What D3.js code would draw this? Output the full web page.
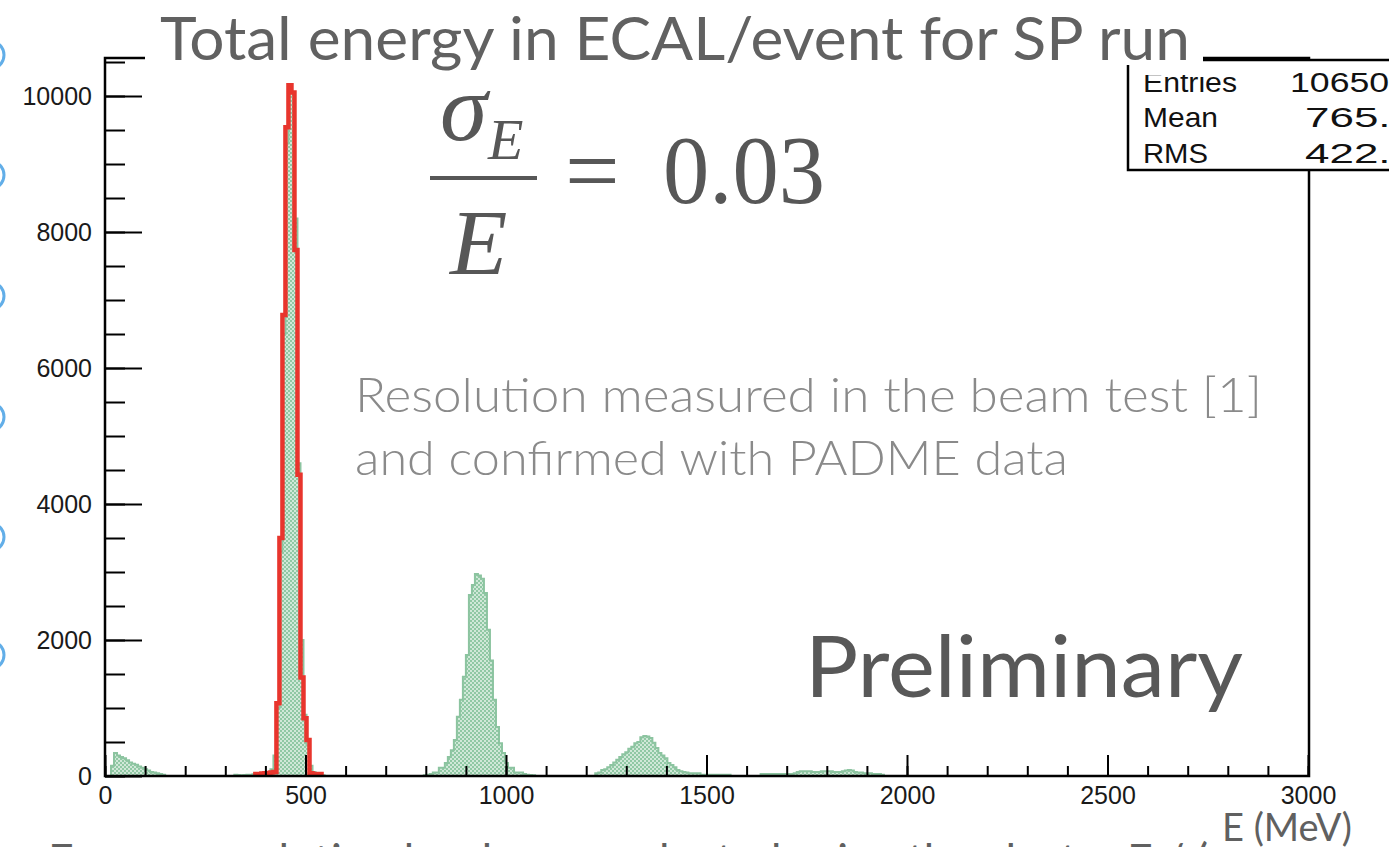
<!DOCTYPE html>
<html><head><meta charset="utf-8">
<script src="https://cdn.jsdelivr.net/npm/d3@7"></script>
<style>html,body{margin:0;padding:0;background:#fff;overflow:hidden}</style>
</head><body><svg id="c" width="1389" height="847"></svg>
<script>
// ---------------- DATA ----------------
const BIN_WIDTH = 7.5; // MeV per bin (400 bins over 0-3000 MeV)
const X_DOMAIN = [0, 3000];
const Y_MAX = 10559;
const xMajorTicks = [0, 500, 1000, 1500, 2000, 2500, 3000];
const xMinorTicks = d3.range(0, 3001, 100);
const yMajorTicks = [0, 2000, 4000, 6000, 8000, 10000];
const yMinorTicks = d3.range(0, 10501, 500);

// green (all events) histogram, in segments: start energy (MeV) + counts per bin
const greenLowStart = 15;
const greenLow = [150, 340, 300, 280, 260, 230, 200, 180, 165, 140, 120, 100, 80, 60, 50, 40, 30, 20];
const greenPeak1Start = 322.5;
const greenPeak1 = [20, 15, 10, 15, 20, 20, 25, 30, 30, 35, 40, 60, 100, 300, 1000, 3300, 6500, 9300, 10100, 10050, 8200, 4600, 2000, 900, 450, 150, 60, 30, 20, 10];
const greenPeak2Start = 795;
const greenPeak2 = [10, 20, 30, 50, 50, 120, 120, 190, 280, 380, 530, 870, 1120, 1460, 1780, 2660, 2810, 2970, 2950, 2900, 2690, 2150, 1700, 1120, 720, 480, 340, 190, 120, 120, 50, 50, 50, 30, 20, 15, 10];
const greenPeak3Start = 1222.5;
const greenPeak3 = [40, 50, 90, 100, 130, 160, 200, 240, 280, 320, 350, 400, 430, 480, 500, 570, 590, 580, 560, 490, 410, 340, 300, 260, 190, 160, 130, 90, 70, 60, 50, 40, 40, 40, 40, 20, 20, 20, 20, 20, 20, 20, 20, 20, 20];
const greenPeak4Start = 1635;
const greenPeak4 = [30, 30, 30, 30, 30, 30, 30, 30, 30, 30, 30, 40, 60, 70, 70, 70, 70, 60, 60, 60, 70, 70, 70, 70, 60, 60, 60, 70, 80, 90, 80, 60, 50, 50, 40, 40, 40, 30, 30, 30, 20];

// red (selected) histogram
const redStart = 375;
const redCounts = [30, 30, 35, 40, 45, 50, 60, 1070, 3500, 6780, 9540, 10160, 10050, 7735, 4430, 1450, 850, 530, 40, 30, 30, 30];

const titleText = "Total energy in ECAL/event for SP run";
const statsLabels = ["Entries", "Mean", "RMS"];
const statsValues = ["106500", "765.3", "422.6"];
const noteLines = ["Resolution measured in the beam test [1]", "and confirmed with PADME data"];
const bottomText = "Energy resolution has been evaluated using the cluster E / (";
const leftMarksY = [55, 175, 296, 417, 537, 655];

// ---------------- DRAWING ----------------
const svg = d3.select("#c");
const x = d3.scaleLinear().domain(X_DOMAIN).range([105, 1308]);
const y = d3.scaleLinear().domain([0, Y_MAX]).range([776, 58]);

function toBins(start, counts) {
  return counts.map((c, i) => ({ e0: start + i * BIN_WIDTH, c }));
}
function stepPoints(bins) {
  const pts = [];
  bins.forEach(b => {
    pts.push([b.e0, b.c]);
    pts.push([b.e0 + BIN_WIDTH, b.c]);
  });
  return pts;
}
const segments = [
  [greenLowStart, greenLow], [greenPeak1Start, greenPeak1], [greenPeak2Start, greenPeak2],
  [greenPeak3Start, greenPeak3], [greenPeak4Start, greenPeak4]
];

const defs = svg.append("defs");
const pat = defs.append("pattern").attr("id", "hatch").attr("patternUnits", "userSpaceOnUse")
  .attr("width", 4).attr("height", 4);
pat.append("rect").attr("width", 4).attr("height", 4).attr("fill", "#90c8a4");
pat.append("rect").attr("x", 0.2).attr("y", 0.2).attr("width", 1.6).attr("height", 1.6).attr("fill", "#f4faf6");
pat.append("rect").attr("x", 2.2).attr("y", 2.2).attr("width", 1.6).attr("height", 1.6).attr("fill", "#f4faf6");

// left-edge blue marks (partial slide shapes)
svg.selectAll("circle.mark").data(leftMarksY).enter().append("circle")
  .attr("cx", -10).attr("cy", d => d).attr("r", 14)
  .attr("fill", "none").attr("stroke", "#62aee8").attr("stroke-width", 3);

// green histogram
const area = d3.area().x(d => x(d[0])).y0(y(0)).y1(d => y(d[1]));
const line = d3.line().x(d => x(d[0])).y(d => y(d[1]));
segments.forEach(([s, c]) => {
  const pts = stepPoints(toBins(s, c));
  const full = [[pts[0][0], 0], ...pts, [pts[pts.length - 1][0], 0]];
  svg.append("path").attr("d", area(full)).attr("fill", "url(#hatch)");
  svg.append("path").attr("d", line(full)).attr("fill", "none")
    .attr("stroke", "#8cc4a0").attr("stroke-width", 2);
});

// red histogram (outline)
{
  const pts = stepPoints(toBins(redStart, redCounts));
  const full = [[pts[0][0], 0], ...pts, [pts[pts.length - 1][0], 0]];
  svg.append("path").attr("d", line(full)).attr("fill", "none")
    .attr("stroke", "#e8352d").attr("stroke-width", 4.5).attr("stroke-linejoin", "miter");
}

// frame
const frame = svg.append("g").attr("stroke", "#000").attr("stroke-width", 2.5).attr("fill", "none");
frame.append("rect").attr("x", x(0)).attr("y", y(Y_MAX)).attr("width", 1309 - x(0)).attr("height", y(0) - y(Y_MAX));

// axes
const axisFont = "'Liberation Sans', Arial, Helvetica, sans-serif";
function styleAxis(g) {
  g.select(".domain").remove();
  g.selectAll("line").attr("stroke", "#000").attr("stroke-width", 2);
  g.selectAll("text").attr("font-family", axisFont).attr("font-size", 25).attr("fill", "#1a1a1a");
}
svg.append("g").attr("transform", `translate(${x(0)},0)`)
  .call(d3.axisLeft(y).tickValues(yMinorTicks).tickSize(-20).tickFormat(""))
  .call(styleAxis);
svg.append("g").attr("transform", `translate(${x(0)},0)`)
  .call(d3.axisLeft(y).tickValues(yMajorTicks).tickSize(-37).tickPadding(13).tickFormat(d3.format("d")))
  .call(styleAxis);
svg.append("g").attr("transform", `translate(0,${y(0)})`)
  .call(d3.axisBottom(x).tickValues(xMinorTicks).tickSize(-10).tickFormat(""))
  .call(styleAxis);
svg.append("g").attr("transform", `translate(0,${y(0)})`)
  .call(d3.axisBottom(x).tickValues(xMajorTicks).tickSize(-21).tickPadding(10).tickFormat(d3.format("d")))
  .call(styleAxis);

// formula sigma_E / E = 0.03
const serif = "'Liberation Serif', 'Times New Roman', serif";
const fg = svg.append("g").attr("fill", "#575757").attr("font-family", serif);
fg.append("text").attr("x", 440).attr("y", 140).attr("font-size", 96).attr("font-style", "italic").text("σ");
fg.append("text").attr("x", 488).attr("y", 159).attr("font-size", 58).attr("font-style", "italic").text("E");
fg.append("line").attr("x1", 430).attr("x2", 537).attr("y1", 178).attr("y2", 178).attr("stroke", "#575757").attr("stroke-width", 4);
fg.append("text").attr("x", 450).attr("y", 274).attr("font-size", 94).attr("font-style", "italic").text("E");
fg.append("text").attr("x", 565).attr("y", 203).attr("font-size", 97).text("=");
fg.append("text").attr("x", 663).attr("y", 203).attr("font-size", 97)
  .attr("textLength", 162).attr("lengthAdjust", "spacingAndGlyphs").text("0.03");

// note text
const sans = "Lato, 'Open Sans', 'Noto Sans', sans-serif";
svg.append("text").attr("x", 355).attr("y", 412).attr("font-family", sans).attr("font-weight", 300)
  .attr("font-size", 48).attr("fill", "#8a8a8a").attr("textLength", 907).attr("lengthAdjust", "spacingAndGlyphs").text(noteLines[0]);
svg.append("text").attr("x", 355).attr("y", 475).attr("font-family", sans).attr("font-weight", 300)
  .attr("font-size", 48).attr("fill", "#8a8a8a").attr("textLength", 713).attr("lengthAdjust", "spacingAndGlyphs").text(noteLines[1]);

// Preliminary
svg.append("text").attr("x", 805).attr("y", 697).attr("font-family", sans)
  .attr("font-size", 86).attr("fill", "#585858").attr("textLength", 438).attr("lengthAdjust", "spacingAndGlyphs").text("Preliminary");

// bottom (cut-off) slide text
svg.append("text").attr("x", 48).attr("y", 880).attr("font-family", sans)
  .attr("font-size", 50).attr("fill", "#606060").attr("textLength", 1160).attr("lengthAdjust", "spacingAndGlyphs").text(bottomText);

// x-axis title
svg.append("text").attr("x", 1222).attr("y", 841).attr("font-family", sans)
  .attr("font-size", 38).attr("fill", "#606060").attr("textLength", 130).attr("lengthAdjust", "spacingAndGlyphs").text("E (MeV)");

// stats box
const sb = svg.append("g");
sb.append("rect").attr("x", 1128).attr("y", 60).attr("width", 320).attr("height", 110)
  .attr("fill", "#fff").attr("stroke", "#000").attr("stroke-width", 2.5);
const statsY = [92, 127, 163];
const labelLen = [94, 75, 65];
const valueX = [1290, 1305, 1305];
const valueLen = [119, 110, 110];
statsLabels.forEach((l, i) => {
  sb.append("text").attr("x", 1143).attr("y", statsY[i]).attr("font-family", axisFont)
    .attr("font-size", 28).attr("fill", "#111").attr("textLength", labelLen[i]).attr("lengthAdjust", "spacingAndGlyphs").text(l);
  sb.append("text").attr("x", valueX[i]).attr("y", statsY[i]).attr("font-family", axisFont)
    .attr("font-size", 28).attr("fill", "#111").attr("textLength", valueLen[i]).attr("lengthAdjust", "spacingAndGlyphs").text(statsValues[i]);
});
// title white background & cut of stats box top
svg.append("rect").attr("x", 145).attr("y", 0).attr("width", 1058).attr("height", 65).attr("fill", "#fff");
svg.append("rect").attr("x", 1136).attr("y", 62).attr("width", 108).attr("height", 13).attr("fill", "#fff");
svg.append("text").attr("x", 160).attr("y", 60).attr("font-family", sans)
  .attr("font-size", 60).attr("fill", "#616161").attr("textLength", 1030).attr("lengthAdjust", "spacingAndGlyphs").text(titleText);
</script></body></html>
